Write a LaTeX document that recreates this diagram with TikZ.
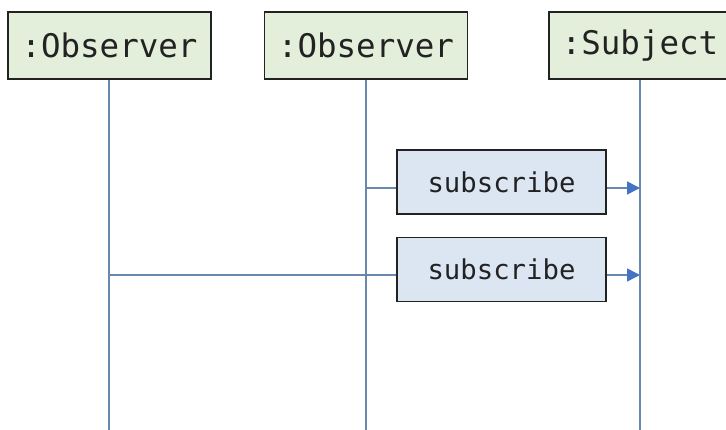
\documentclass[tikz,border=0pt]{standalone}
\usepackage{fontspec}
\setmonofont{DejaVu Sans Mono}
\usetikzlibrary{arrows.meta,calc}
\definecolor{hdrfill}{HTML}{E3EFDA}
\definecolor{msgfill}{HTML}{DCE6F3}
\definecolor{lifecol}{HTML}{6A88AE}
\definecolor{arrcol}{HTML}{4472C4}
\definecolor{ink}{HTML}{222222}
\tikzset{
  header/.style={draw=ink, line width=1.6pt, fill=hdrfill, minimum width=203pt, minimum height=67pt,
    inner sep=0pt, font=\ttfamily\fontsize{32.5}{36}\selectfont, text=ink},
  msgbox/.style={draw=ink, line width=1.6pt, fill=msgfill, minimum width=209pt, minimum height=64pt,
    inner sep=0pt, font=\ttfamily\fontsize{27.3}{30}\selectfont, text=ink},
  lifeline/.style={draw=lifecol, line width=1.5pt},
  callarrow/.style={draw=lifecol, line width=1.5pt, -{Triangle[length=13pt,width=13pt,fill=arrcol,color=arrcol]}}
}
\begin{document}
\begin{tikzpicture}[x=1pt,y=-1pt]
  \clip (0,0) rectangle (726,430);
  \useasboundingbox (0,0) rectangle (726,430);
  % lifeline ends
  \coordinate (e1) at (109,432);
  \coordinate (e2) at (366,432);
  \coordinate (e3) at (640,432);
  \node[header] (o1) at (109.5,45.5) {:Observer};
  \node[header] (o2) at (366,45.5) {:Observer};
  \node[header, minimum width=182pt] (s) at (640,45.5) {:Subject};
  \draw[lifeline] (o1.south -| e1) -- (e1);
  \draw[lifeline] (o2.south) -- (e2);
  \draw[lifeline] (s.south) -- (e3);
  % message levels
  \coordinate (y1) at (0,188);
  \coordinate (y2) at (0,275);
  \node[msgbox] (m1) at (501.5,182) {subscribe};
  \node[msgbox] (m2) at (501.5,269.5) {subscribe};
  \draw[lifeline] (e2 |- y1) -- (m1.west |- y1);
  \draw[callarrow] (m1.east |- y1) -- (e3 |- y1);
  \draw[lifeline] (e1 |- y2) -- (m2.west |- y2);
  \draw[callarrow] (m2.east |- y2) -- (e3 |- y2);
\end{tikzpicture}
\end{document}
